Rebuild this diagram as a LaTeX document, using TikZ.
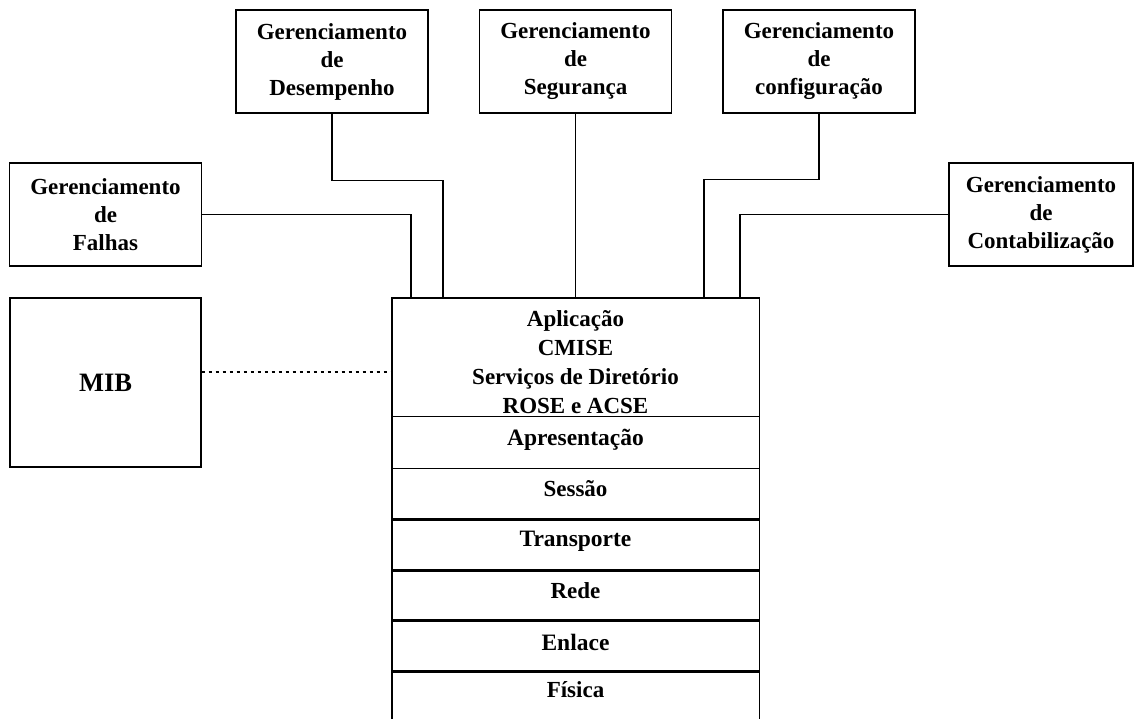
\documentclass[tikz,border=0pt]{standalone}
\usepackage{fontspec}
\setmainfont{Liberation Serif}
\begin{document}
\begin{tikzpicture}[x=1pt,y=-1pt,
  mgmt/.style={draw, line width=1.3pt, minimum width=192pt, minimum height=103pt,
    inner sep=0pt, align=center, font=\bfseries\fontsize{23}{28}\selectfont},
  link/.style={line width=1.1pt},
  sep/.style={line width=1.1pt},
  thicksep/.style={line width=2.4pt},
  layer/.style={minimum width=367pt, inner sep=0pt, anchor=north west},
  small/.style={inner sep=0pt, font=\bfseries\fontsize{23}{29}\selectfont, align=center},
  large/.style={inner sep=0pt, font=\bfseries\fontsize{23.5}{29}\selectfont}]
\useasboundingbox (0,0) rectangle (1135,719);

% management functional areas
\node[mgmt] (desemp) at (332,61.5) {Gerenciamento\\de\\Desempenho};
\node[mgmt] (seg) at (575.5,61.5) {Gerenciamento\\de\\Segurança};
\node[mgmt] (conf) at (819,61.5) {Gerenciamento\\de\\configuração};
\node[mgmt] (falhas) at (105.5,214.5) {Gerenciamento\\de\\Falhas};
\node[mgmt, minimum width=184pt] (cont) at (1041,214.5) {Gerenciamento\\de\\Contabilização};

% management information base
\node[draw, line width=1.3pt, minimum width=191pt, minimum height=169pt,
  font=\bfseries\fontsize{26.5}{30}\selectfont] (mib) at (105.5,382.5) {MIB};

% protocol stack layers
\node[layer, minimum height=118pt] (apl) at (392,298) {};
\node[layer, minimum height=52pt] (apr) at (392,416) {};
\node[layer, minimum height=51pt] (ses) at (392,468) {};
\node[layer, minimum height=51pt] (tra) at (392,519) {};
\node[layer, minimum height=50pt] (red) at (392,570) {};
\node[layer, minimum height=51pt] (enl) at (392,620) {};
\node[layer, minimum height=48pt] (fis) at (392,671) {};

\draw[sep] (fis.south west) -- (apl.north west) -- (apl.north east) -- (fis.south east);
\draw[sep] (apl.south west) -- (apl.south east);
\draw[sep] (apr.south west) -- (apr.south east);
\draw[thicksep] (ses.south west) -- (ses.south east);
\draw[thicksep] (tra.south west) -- (tra.south east);
\draw[thicksep] (red.south west) -- (red.south east);
\draw[thicksep] (enl.south west) -- (enl.south east);

\node[small] (tapl) at (575.5,362) {Aplicação\\CMISE\\Serviços de Diretório\\ROSE e ACSE};
\node[large] (tapr) at (575.5,440) {Apresentação};
\node[small] (tses) at (575.5,489) {Sessão};
\node[large] (ttra) at (575.5,541) {Transporte};
\node[small] (tred) at (575.5,591) {Rede};
\node[large] (tenl) at (575.5,642) {Enlace};
\node[small] (tfis) at (575.5,690) {Física};

% connection points on top of the stack
\coordinate (inF) at (411,298);
\coordinate (inD) at (443,298);
\coordinate (inC) at (704,298);
\coordinate (inK) at (740,298);
\coordinate (dotrow) at (0,372);

\draw[link] (falhas.east) -| (inF);
\draw[link] (desemp.south) -- ++(0,67) -| (inD);
\draw[link] (seg.south) -- (seg.south |- apl.north);
\draw[link] (conf.south) -- ++(0,66) -| (inC);
\draw[link] (cont.west) -| (inK);
\draw[link, dash pattern=on 3pt off 4pt] (mib.east |- dotrow) -- (apl.west |- dotrow);
\end{tikzpicture}
\end{document}
